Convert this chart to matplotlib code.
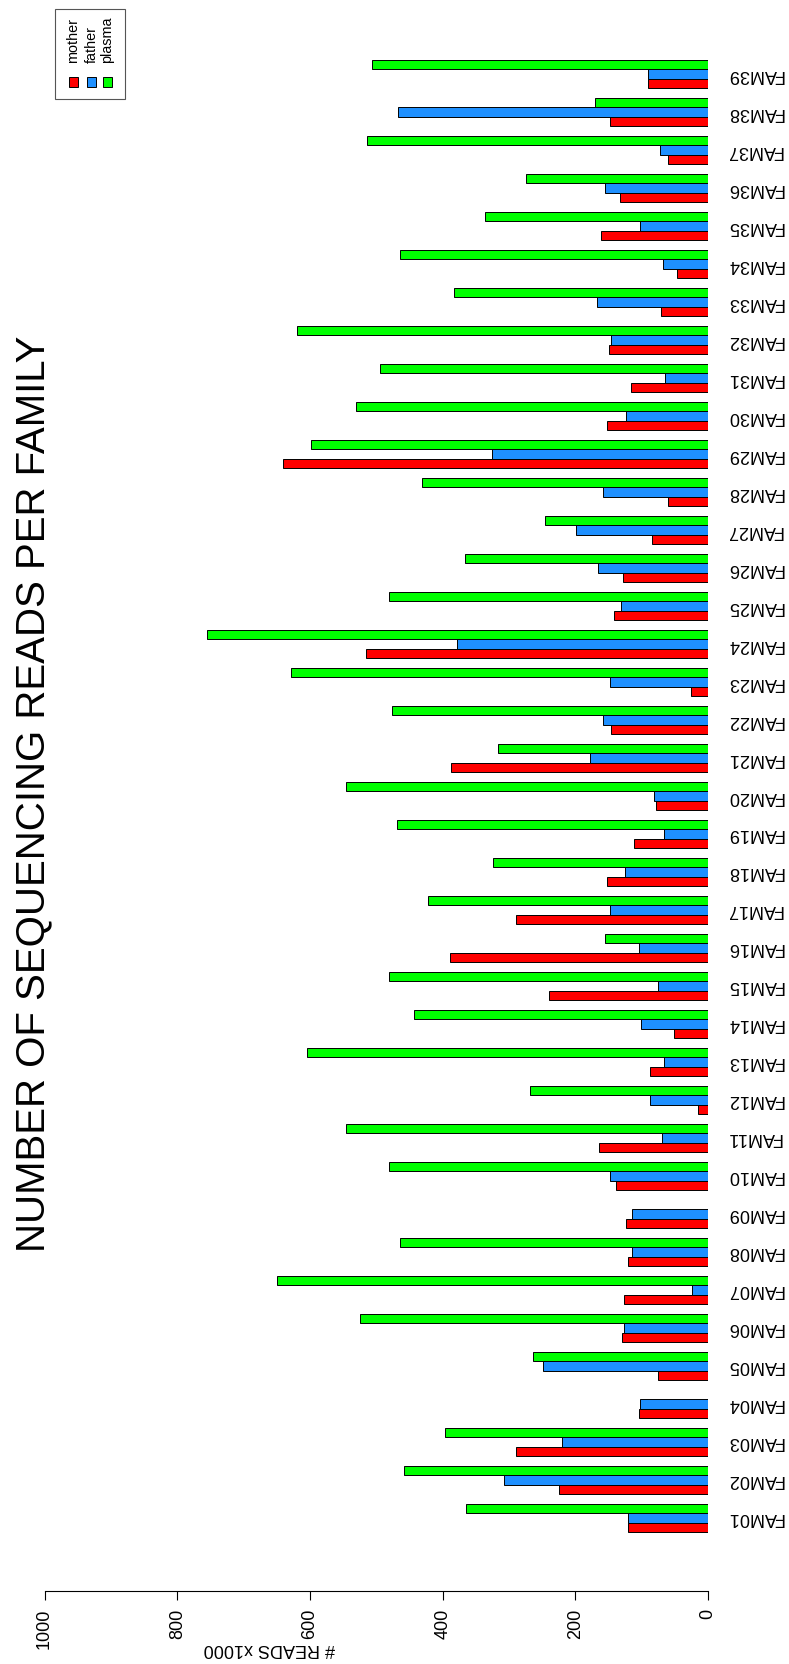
import matplotlib
matplotlib.use("Agg")
import numpy as np
import matplotlib.pyplot as plt
from matplotlib.patches import Rectangle

plt.rcParams['font.family'] = ['Liberation Sans', 'DejaVu Sans']

families = ["FAM%02d" % i for i in range(1, 40)]
mother = [120, 225, 290, 104, 75, 130, 127, 121, 123, 139,
          165, 15, 88, 52, 240, 389, 289, 152, 111, 79,
          387, 146, 25, 515, 142, 128, 84, 60, 641, 152,
          116, 149, 71, 46, 162, 133, 60, 148, 90]
father = [120, 308, 220, 103, 248, 127, 24, 115, 115, 147,
          70, 88, 66, 101, 75, 104, 147, 125, 67, 82,
          178, 158, 148, 378, 131, 166, 199, 159, 326, 123,
          65, 146, 167, 68, 103, 156, 72, 467, 90]
plasma = [365, 458, 396, 0, 264, 524, 650, 465, 0, 481,
          545, 269, 605, 443, 481, 156, 422, 324, 469, 546,
          316, 476, 628, 755, 481, 366, 245, 431, 598, 531,
          495, 620, 383, 464, 336, 275, 514, 171, 506]
series = ["mother", "father", "plasma"]
colors = ["#FF0000", "#1E90FF", "#00FF00"]
ticks = [0, 200, 400, 600, 800, 1000]

W, H = 789, 1664
fig = plt.figure(figsize=(W / 100, H / 100), dpi=100)

# plot region (image pixels, origin top-left)
x0, x1 = 44.6, 708
y0, y1 = 1, 1591
ax = fig.add_axes([x0 / W, (H - y1) / H, (x1 - x0) / W, (y1 - y0) / H])

g = np.arange(len(families))
for k, (vals, c) in enumerate(zip([mother, father, plasma], colors)):
    ax.barh(1.5 + 4 * g + k, vals, height=1, left=0, color=c,
            edgecolor="black", linewidth=0.7)

ax.set_xlim(1000, 0)
ax.set_ylim(-5.2, 162.2)

for s in ["top", "left", "right"]:
    ax.spines[s].set_visible(False)
ax.spines["bottom"].set_linewidth(0.8)

ax.set_xticks(ticks)
ax.set_xticklabels([str(t) for t in ticks])
ax.tick_params(axis="x", labelrotation=90, length=6.5, width=0.8,
               pad=6.5, labelsize=13)

ax.yaxis.tick_right()
ax.set_yticks(2.5 + 4 * g)
ax.set_yticklabels(families, rotation=180, va="center")
ax.tick_params(axis="y", length=0, pad=13, labelsize=13)

ax.set_xlabel("# READS x1000", rotation=180, fontsize=13)
ax.xaxis.set_label_coords(0.338, -49 / (y1 - y0))

# title
fig.text(44 / W, (H - 794) / H, "NUMBER OF SEQUENCING READS PER FAMILY",
         rotation=90, rotation_mode="anchor", ha="center", va="baseline",
         fontsize=29)

# legend, drawn by hand because the text is rotated
fig.add_artist(Rectangle((55 / W, (H - 99) / H), 70 / W, 90 / H,
                         transform=fig.transFigure, facecolor="white",
                         edgecolor="#555555", linewidth=0.8))
for k, (name, c) in enumerate(zip(series, colors)):
    cx = [73.5, 91.5, 107.5][k]
    fig.add_artist(Rectangle(((cx - 4.5) / W, (H - 87) / H), 9 / W, 10 / H,
                             transform=fig.transFigure, facecolor=c,
                             edgecolor="black", linewidth=0.7))
    fig.text(cx / W, (H - 63) / H, name, rotation=90, rotation_mode="anchor",
             ha="left", va="center", fontsize=10.4)

fig.savefig("out.png", dpi=100)
